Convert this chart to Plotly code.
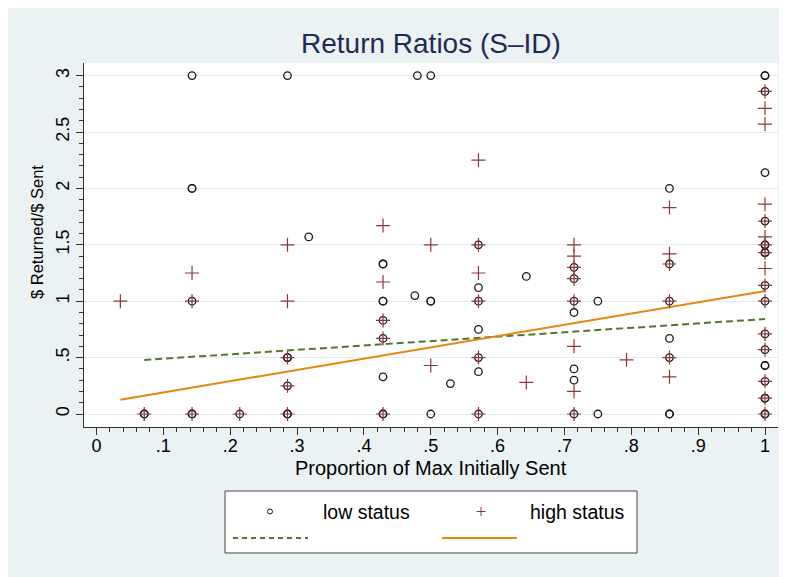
import plotly.graph_objects as go

# ---- data ----
low_x = [0.0714, 0.0714,
         0.1429, 0.1429, 0.1429, 0.1429, 0.1429, 0.1429,
         0.2143,
         0.2857, 0.2857, 0.2857, 0.2857, 0.2857, 0.2857,
         0.3175,
         0.4286, 0.4286, 0.4286, 0.4286, 0.4286, 0.4286, 0.4286, 0.4286, 0.4286,
         0.4762, 0.48,
         0.5, 0.5, 0.5, 0.5,
         0.5294,
         0.5714, 0.5714, 0.5714, 0.5714, 0.5714, 0.5714, 0.5714,
         0.6429,
         0.7143, 0.7143, 0.7143, 0.7143, 0.7143, 0.7143, 0.7143,
         0.75, 0.75,
         0.8571, 0.8571, 0.8571, 0.8571, 0.8571, 0.8571, 0.8571,
         1, 1, 1, 1, 1, 1, 1, 1, 1, 1, 1, 1, 1, 1, 1, 1, 1, 1, 1, 1]
low_y = [0, 0,
         3, 2, 2, 1, 0, 0,
         0,
         3, 0.5, 0.5, 0.25, 0, 0,
         1.57,
         1.33, 1.33, 1.0, 1.0, 0.83, 0.67, 0.33, 0, 0,
         1.05, 3,
         3, 1.0, 1.0, 0,
         0.27,
         1.5, 1.12, 1.0, 0.75, 0.5, 0.375, 0,
         1.22,
         1.3, 1.2, 1.0, 0.9, 0.4, 0.3, 0,
         1.0, 0,
         2.0, 1.33, 1.0, 0.67, 0.5, 0, 0,
         3, 3, 2.86, 2.14, 1.71, 1.5, 1.5, 1.43, 1.43, 1.14, 1.0, 0.71, 0.57, 0.43, 0.43, 0.29, 0.14, 0.14, 0, 0]

high_x = [0.0357,
          0.0714,
          0.1429, 0.1429, 0.1429,
          0.2143,
          0.2857, 0.2857, 0.2857, 0.2857, 0.2857,
          0.4286, 0.4286, 0.4286, 0.4286, 0.4286,
          0.5, 0.5,
          0.5714, 0.5714, 0.5714, 0.5714, 0.5714, 0.5714,
          0.6429,
          0.7143, 0.7143, 0.7143, 0.7143, 0.7143, 0.7143, 0.7143, 0.7143,
          0.7929,
          0.8571, 0.8571, 0.8571, 0.8571, 0.8571, 0.8571,
          1, 1, 1, 1, 1, 1, 1, 1, 1, 1, 1, 1, 1, 1, 1, 1]
high_y = [1.0,
          0,
          1.25, 1.0, 0,
          0,
          1.5, 1.0, 0.5, 0.25, 0,
          1.67, 1.17, 0.83, 0.67, 0,
          1.5, 0.43,
          2.25, 1.5, 1.25, 1.0, 0.5, 0,
          0.28,
          1.5, 1.4, 1.3, 1.2, 1.0, 0.6, 0.2, 0,
          0.48,
          1.83, 1.42, 1.33, 1.0, 0.5, 0.33,
          2.86, 2.71, 2.57, 1.86, 1.71, 1.57, 1.5, 1.43, 1.29, 1.14, 1.0, 0.71, 0.57, 0.29, 0.14, 0]

fit_low_x = [0.0714, 1.0]
fit_low_y = [0.479, 0.842]
fit_high_x = [0.0357, 1.0]
fit_high_y = [0.127, 1.09]

x_ticks = [0, 0.1, 0.2, 0.3, 0.4, 0.5, 0.6, 0.7, 0.8, 0.9, 1]
x_tick_labels = ["0", ".1", ".2", ".3", ".4", ".5", ".6", ".7", ".8", ".9", "1"]
y_ticks = [0, 0.5, 1, 1.5, 2, 2.5, 3]
y_tick_labels = ["0", ".5", "1", "1.5", "2", "2.5", "3"]
x_minor = [i / 50 for i in range(51)]
y_minor = [i / 10 for i in range(31)]

title_text = "Return Ratios (S\u2013ID)"
x_title = "Proportion of Max Initially Sent"
y_title = "$ Returned/$ Sent"
legend_labels = ["low status", "high status"]

# ---- styling ----
OFF = 8  # page body margin offset
W, H = 787 - OFF, 577 - OFF
BG = "#eaf2f3"
FONT = "Liberation Sans, Arial, sans-serif"
BLACK = "#1a1a1a"
MAROON = "#90353b"
GREEN = "#55752f"
ORANGE = "#e8850c"


def px(xp):
    return (xp - OFF) / W


def py(yp):
    return 1 - (yp - OFF) / H


fig = go.Figure()

fig.add_trace(go.Scatter(x=fit_low_x, y=fit_low_y, mode="lines",
                         line=dict(color=GREEN, width=2, dash="7px,4px"),
                         showlegend=False, hoverinfo="skip"))
fig.add_trace(go.Scatter(x=fit_high_x, y=fit_high_y, mode="lines",
                         line=dict(color=ORANGE, width=2),
                         showlegend=False, hoverinfo="skip"))
fig.add_trace(go.Scatter(x=low_x, y=low_y, mode="markers", name=legend_labels[0],
                         marker=dict(symbol="circle-open", size=7.5, color=BLACK,
                                     line=dict(width=1.3, color=BLACK)),
                         showlegend=False))
fig.add_trace(go.Scatter(x=high_x, y=high_y, mode="markers", name=legend_labels[1],
                         marker=dict(symbol="cross-thin-open", size=10, color=MAROON,
                                     line=dict(width=1.2, color=MAROON)),
                         showlegend=False))

x_range = [(84 - 96.5) / 668.5, (778 - 96.5) / 668.5]
y_range = [(414 - 427) / 112.8, (414 - 63) / 112.8]

fig.update_layout(
    width=W, height=H, autosize=False,
    margin=dict(l=0, r=0, t=0, b=0),
    paper_bgcolor=BG, plot_bgcolor="white",
    font=dict(family=FONT, color="black", size=18),
    showlegend=False,
    xaxis=dict(domain=[px(84), px(778)], range=x_range,
               tickmode="array", tickvals=x_ticks, ticktext=x_tick_labels,
               ticks="outside", ticklen=7, tickwidth=1, tickcolor="#333",
               showline=True, linecolor="#333", linewidth=1,
               showgrid=False, zeroline=False, ticklabelstandoff=-5,
               tickfont=dict(size=18, family=FONT),
               minor=dict(tickmode="array", tickvals=x_minor, ticks="outside",
                          ticklen=4, tickcolor="#333", showgrid=False)),
    yaxis=dict(domain=[py(427), py(63)], range=y_range,
               tickmode="array", tickvals=y_ticks, ticktext=y_tick_labels,
               ticks="outside", ticklen=7, tickwidth=1, tickcolor="#333",
               showline=True, linecolor="#333", linewidth=1,
               showgrid=True, gridcolor="#e3ecef", gridwidth=1.2,
               zeroline=False, tickangle=-90,
               tickfont=dict(size=18, family=FONT),
               minor=dict(tickmode="array", tickvals=y_minor, ticks="outside",
                          ticklen=4, tickcolor="#333", showgrid=False)),
)

shapes = [
    # legend box
    dict(type="rect", xref="paper", yref="paper", x0=px(225), x1=px(637),
         y0=py(553), y1=py(491), fillcolor="white", line=dict(color="#444", width=1)),
    # legend keys
    dict(type="circle", xref="paper", yref="paper", x0=px(267.5), x1=px(272.5),
         y0=py(514), y1=py(509), line=dict(color=BLACK, width=1)),
    dict(type="line", xref="paper", yref="paper", x0=px(476.5), x1=px(485.5),
         y0=py(511.5), y1=py(511.5), line=dict(color=MAROON, width=1)),
    dict(type="line", xref="paper", yref="paper", x0=px(481), x1=px(481),
         y0=py(516), y1=py(507), line=dict(color=MAROON, width=1)),
    dict(type="line", xref="paper", yref="paper", x0=px(233), x1=px(308),
         y0=py(538), y1=py(538), line=dict(color=GREEN, width=2, dash="5px,4px")),
    dict(type="line", xref="paper", yref="paper", x0=px(442), x1=px(517),
         y0=py(538), y1=py(538), line=dict(color=ORANGE, width=2)),
]
fig.update_layout(shapes=shapes)

annotations = [
    dict(text=title_text, x=px(431), y=py(43), xref="paper", yref="paper",
         showarrow=False, xanchor="center", yanchor="middle",
         font=dict(size=28, color="#1f2b57", family=FONT)),
    dict(text=x_title, x=px(431), y=py(468), xref="paper", yref="paper",
         showarrow=False, xanchor="center", yanchor="middle",
         font=dict(size=20, family=FONT)),
    dict(text=y_title, x=px(37), y=py(232), xref="paper", yref="paper",
         showarrow=False, xanchor="center", yanchor="middle", textangle=-90,
         font=dict(size=16.5, family=FONT)),
    dict(text=legend_labels[0], x=px(321), y=py(512), xref="paper", yref="paper",
         showarrow=False, xanchor="left", yanchor="middle",
         font=dict(size=19.5, family=FONT)),
    dict(text=legend_labels[1], x=px(528), y=py(512), xref="paper", yref="paper",
         showarrow=False, xanchor="left", yanchor="middle",
         font=dict(size=19.5, family=FONT)),
]
fig.update_layout(annotations=annotations)

fig.write_html("out.html")
